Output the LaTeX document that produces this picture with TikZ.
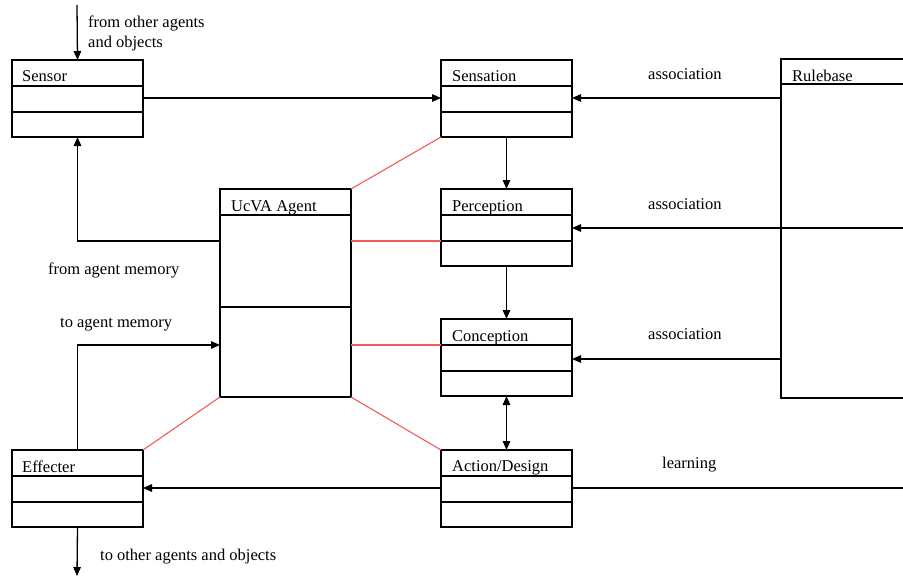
\documentclass[tikz,border=0pt]{standalone}
\usepackage{fontspec}
\setmainfont{Liberation Serif}
\usetikzlibrary{arrows.meta}
\definecolor{assoc}{RGB}{245,90,90}
\begin{document}
\begin{tikzpicture}[x=1pt,y=-1pt,
  box/.style={draw, line width=1.4pt, fill=white, minimum width=131pt, minimum height=77pt, anchor=north west, inner sep=0pt, outer sep=0pt},
  txt/.style={anchor=base west, font=\fontsize{16.5}{19}\selectfont, inner sep=0pt},
  conn/.style={line width=1.3pt, -{Triangle[length=9pt,width=7.5pt]}},
  biconn/.style={line width=1.3pt, {Triangle[length=9pt,width=7.5pt]}-{Triangle[length=9pt,width=7.5pt]}},
  rel/.style={draw=assoc, line width=1.1pt},
  divider/.style={line width=1.3pt}]
\useasboundingbox (0,0) rectangle (903,576);
\fill[white] (0,0) rectangle (903,576);

% free ends
\coordinate (learnin) at (915,488);
\coordinate (percin) at (915,228);
\coordinate (extin) at (77,5);
\coordinate (extout) at (77,576);

% boxes
\node[box] (sensor) at (12,60) {};
\node[box] (effecter) at (12,450) {};
\node[box, minimum height=208pt] (agent) at (220,189) {};
\node[box] (sensation) at (441,60) {};
\node[box] (perception) at (441,189) {};
\node[box] (conception) at (441,319) {};
\draw[conn] (learnin) -- (effecter.east |- 0,488);
\node[box] (action) at (441,450) {};
\node[box, minimum width=150pt, minimum height=339pt] (rulebase) at (781,59) {};

% dividers
\foreach \b in {sensor,effecter,sensation,perception,conception,action}{
  \draw[divider] ([yshift=-26pt]\b.north west) -- ([yshift=-26pt]\b.north east);
  \draw[divider] ([yshift=-52pt]\b.north west) -- ([yshift=-52pt]\b.north east);
}
\draw[divider] ([yshift=-26pt]agent.north west) -- ([yshift=-26pt]agent.north east);
\draw[divider] ([yshift=-118pt]agent.north west) -- ([yshift=-118pt]agent.north east);
\draw[divider] ([yshift=-25pt]rulebase.north west) -- ([yshift=-25pt]rulebase.north east);

% titles
\node[txt] at (22,81) {Sensor};
\node[txt] at (452,81) {Sensation};
\node[txt] at (792,81) {Rulebase};
\node[txt] at (231,211) {UcVA Agent};
\node[txt] at (452,211) {Perception};
\node[txt] at (452,341) {Conception};
\node[txt] at (452,471) {Action/Design};
\node[txt] at (22,472) {Effecter};

% black connectors
\draw[conn] (extin) -- (sensor.north);
\draw[conn] (sensor.east |- 0,98) -- (sensation.west |- 0,98);
\draw[conn] (rulebase.west |- 0,98) -- (sensation.east |- 0,98);
\draw[conn] (sensation.south) -- (perception.north);
\draw[conn] (percin) -- (perception.east |- 0,228);
\draw[conn] (perception.south) -- (conception.north);
\draw[conn] (rulebase.west |- 0,359) -- (conception.east |- 0,359);
\draw[biconn] (conception.south) -- (action.north);
\draw[conn] (agent.west |- 0,241) -| (sensor.south);
\draw[conn] (effecter.north) |- (agent.west |- 0,345);
\draw[conn] (effecter.south) -- (extout);

% red relations
\draw[rel] (agent.north east) -- (sensation.south west);
\draw[rel] (agent.east |- 0,241) -- (perception.west |- 0,241);
\draw[rel] (agent.east |- 0,345) -- (conception.west |- 0,345);
\draw[rel] (agent.south east) -- (action.north west);
\draw[rel] (agent.south west) -- (effecter.north east);

% labels
\node[txt] at (88,27) {from other agents};
\node[txt] at (88,47) {and objects};
\node[txt] at (648,79) {association};
\node[txt] at (648,209) {association};
\node[txt] at (648,339) {association};
\node[txt] at (662,468) {learning};
\node[txt] at (48,274) {from agent memory};
\node[txt] at (60,327) {to agent memory};
\node[txt] at (100,560) {to other agents and objects};
\end{tikzpicture}
\end{document}
